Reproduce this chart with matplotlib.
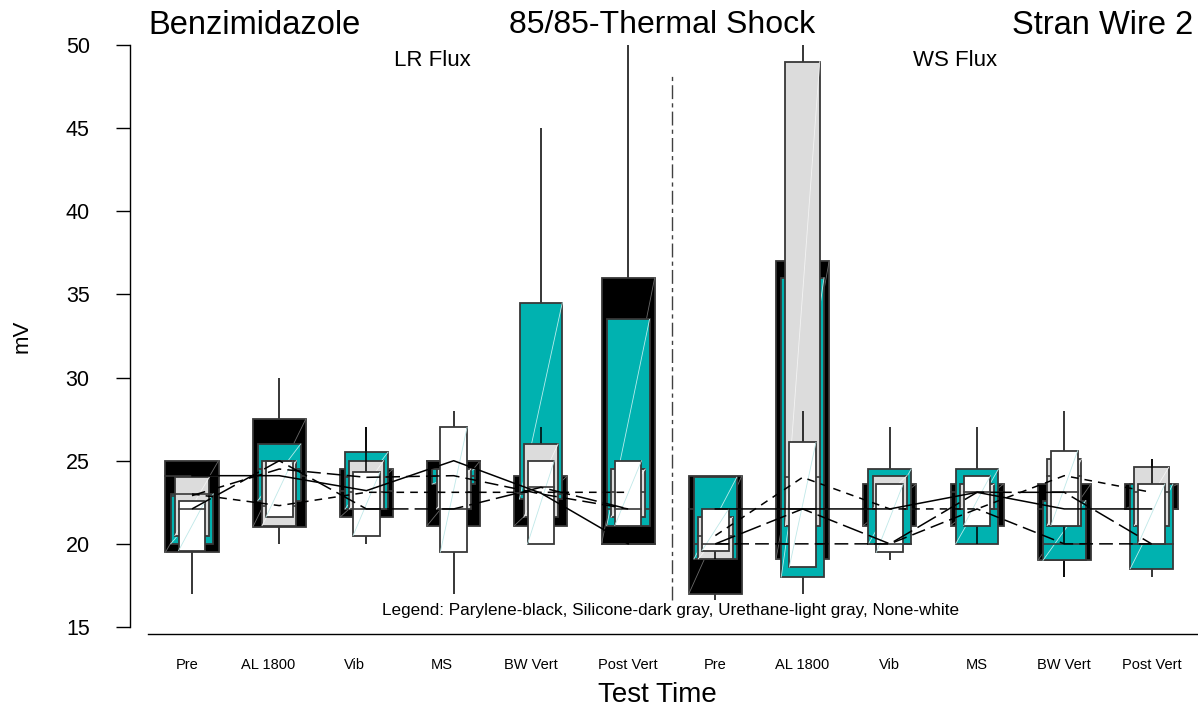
import matplotlib
matplotlib.use("Agg")
import matplotlib.pyplot as plt
import numpy as np

plt.rcParams['font.family'] = ['Liberation Sans', 'DejaVu Sans']

# ---------------- data ----------------
test_times = ["Pre", "AL 1800", "Vib", "MS", "BW Vert", "Post Vert",
              "Pre", "AL 1800", "Vib", "MS", "BW Vert", "Post Vert"]

# Parylene (black)
parylene_lo  = [17.0, 20.0, 21.6, 21.1, 21.1, 20.0, 16.6, 19.1, 21.1, 21.1, 18.0, 22.1]
parylene_q1  = [19.5, 21.0, 21.6, 21.1, 21.1, 20.0, 17.0, 19.1, 21.1, 21.1, 19.0, 22.1]
parylene_med = [24.1, 24.1, 23.2, 25.0, 23.05, 20.0, 22.1, 22.1, 22.1, 23.1, 22.1, 22.1]
parylene_q3  = [25.0, 27.5, 24.5, 25.0, 24.1, 36.0, 24.1, 37.0, 23.6, 23.6, 23.6, 23.6]
parylene_hi  = [25.0, 30.0, 24.5, 25.0, 24.1, 50.0, 24.1, 37.0, 23.6, 23.6, 23.6, 23.6]

# Silicone (dark gray / teal)
silicone_lo  = [20.0, 22.6, 22.1, 23.6, 22.7, 21.1, 19.1, 17.0, 20.0, 20.0, 18.0, 18.0]
silicone_q1  = [20.0, 22.6, 22.1, 23.6, 22.7, 21.1, 19.1, 18.0, 20.0, 20.0, 19.0, 18.5]
silicone_med = [22.9, 24.5, 24.0, 24.1, 23.0, 22.1, 20.0, 20.0, 20.0, 22.1, 20.0, 20.0]
silicone_q3  = [23.0, 26.0, 25.5, 24.5, 34.5, 33.5, 24.0, 36.0, 24.5, 24.5, 22.6, 23.6]
silicone_hi  = [23.0, 26.0, 27.0, 24.5, 45.0, 33.5, 24.0, 36.0, 27.0, 27.0, 22.6, 23.6]

# Urethane (light gray)
urethane_lo  = [20.5, 21.1, 22.1, 22.1, 21.6, 21.6, 19.1, 21.1, 22.1, 22.1, 21.1, 21.1]
urethane_q1  = [20.5, 21.1, 22.1, 22.1, 21.6, 21.6, 19.1, 21.1, 22.1, 22.1, 21.1, 21.1]
urethane_med = [23.0, 22.3, 23.1, 23.1, 23.1, 23.1, 20.5, 24.0, 22.1, 22.1, 24.1, 23.1]
urethane_q3  = [24.0, 25.0, 25.0, 24.5, 26.0, 24.5, 21.6, 49.0, 24.1, 23.6, 25.1, 24.6]
urethane_hi  = [24.0, 25.0, 25.0, 24.5, 27.0, 24.5, 21.6, 50.0, 24.1, 23.6, 25.1, 25.1]

# None (white)
none_lo  = [19.6, 21.6, 20.0, 17.0, 20.0, 20.0, 19.1, 18.6, 19.0, 20.0, 20.0, 20.0]
none_q1  = [19.6, 21.6, 20.5, 19.5, 20.0, 21.1, 19.6, 18.6, 19.5, 21.1, 21.1, 20.0]
none_med = [22.1, 25.0, 22.1, 22.1, 23.4, 22.1, 20.0, 22.1, 20.0, 23.1, 23.1, 20.0]
none_q3  = [22.6, 25.0, 24.3, 27.0, 25.0, 25.0, 22.1, 26.1, 23.6, 24.1, 25.6, 23.6]
none_hi  = [22.6, 25.0, 27.0, 28.0, 25.0, 25.0, 22.1, 28.0, 23.6, 24.1, 28.0, 25.1]

# ---------------- styles ----------------
groups = [
    dict(lo=parylene_lo, q1=parylene_q1, med=parylene_med, q3=parylene_q3, hi=parylene_hi,
         fill='#000000', width=0.608, diag='#6a6a6a', dash=None),
    dict(lo=silicone_lo, q1=silicone_q1, med=silicone_med, q3=silicone_q3, hi=silicone_hi,
         fill='#00b2b0', width=0.49, diag='#b8ecec', dash=(9, 4)),
    dict(lo=urethane_lo, q1=urethane_q1, med=urethane_med, q3=urethane_q3, hi=urethane_hi,
         fill='#dcdcdc', width=0.393, diag='#f4f4f4', dash=(5, 4)),
    dict(lo=none_lo, q1=none_q1, med=none_med, q3=none_q3, hi=none_hi,
         fill='#ffffff', width=0.306, diag='#bfe8e8', dash=(14, 4)),
]

W, H = 1198, 715
fig = plt.figure(figsize=(W / 100, H / 100), dpi=100)

px_per_unit = 87.23
x0_px = 192.0
left_px, right_px, top_px, bot_px = 130, 1198, 45, 627
ax = fig.add_axes([left_px / W, 1 - bot_px / H, (right_px - left_px) / W, (bot_px - top_px) / H])
ax.set_xlim((left_px - x0_px) / px_per_unit, (right_px - x0_px) / px_per_unit)
ax.set_ylim(15, 50)

xs = np.arange(len(test_times))
edge = '#383838'

for g in groups:
    w = g['width']
    for i, x in enumerate(xs):
        q1, q3 = g['q1'][i], g['q3'][i]
        if g['hi'][i] > q3:
            ax.plot([x, x], [q3, g['hi'][i]], color='black', lw=1.1, zorder=2, solid_capstyle='butt')
        if g['lo'][i] < q1:
            ax.plot([x, x], [g['lo'][i], q1], color='black', lw=1.1, zorder=2, solid_capstyle='butt')
        ax.add_patch(plt.Rectangle((x - w / 2, q1), w, q3 - q1, facecolor=g['fill'],
                                   edgecolor=edge, lw=1.3, zorder=2))
        ax.plot([x - w / 2, x + w / 2], [q1, q3], color=g['diag'], lw=0.6, zorder=2)
        ax.plot([x - w / 2, x + w / 2], [g['med'][i]] * 2, color=edge, lw=1.2, zorder=2)

# median connecting lines (each flux separately)
for g in groups:
    for sl in (slice(0, 6), slice(6, 12)):
        ln, = ax.plot(xs[sl], np.array(g['med'])[sl], color='black', lw=1.1, zorder=3)
        if g['dash'] is not None:
            ln.set_dashes(g['dash'])

# separator between fluxes
sep_x = (672 - x0_px) / px_per_unit
sep = ax.plot([sep_x, sep_x], [16.6, 48.2], color='#404040', lw=1.0, zorder=1)[0]
sep.set_dashes((10, 3, 3, 3))

# axes styling
for s in ['top', 'right']:
    ax.spines[s].set_visible(False)
ax.spines['left'].set_linewidth(1.0)
ax.spines['bottom'].set_linewidth(1.0)
ax.spines['bottom'].set_position(('outward', 5))
ax.spines['bottom'].set_bounds((148 - x0_px) / px_per_unit, (right_px - x0_px) / px_per_unit)
ax.set_yticks([15, 20, 25, 30, 35, 40, 45, 50])
ax.tick_params(axis='y', length=10, width=1.0, labelsize=15.5, pad=19)

label_shift_px = [-5, -11, -12, -12, -10, 0, 0, 0, 0, 0, 0, 0]
ax.set_xticks(xs + np.array(label_shift_px) / px_per_unit)
ax.set_xticklabels(test_times)
ax.tick_params(axis='x', length=0, labelsize=10.5, pad=17)

def ftext(px, py, s, **kw):
    fig.text(px / W, 1 - py / H, s, **kw)

ftext(148, 25, "Benzimidazole", fontsize=23.5, ha='left', va='center')
ftext(662, 25, "85/85-Thermal Shock", fontsize=23, ha='center', va='center')
ftext(1193, 25, "Stran Wire 2", fontsize=23.5, ha='right', va='center')
ftext(432, 60, "LR Flux", fontsize=16, ha='center', va='center')
ftext(955, 60, "WS Flux", fontsize=16, ha='center', va='center')
ftext(22, 336, "mV", fontsize=16, rotation=90, ha='center', va='center')
ftext(657, 695, "Test Time", fontsize=20, ha='center', va='center')
ftext(671, 611, "Legend: Parylene-black, Silicone-dark gray, Urethane-light gray, None-white",
      fontsize=12.3, ha='center', va='center')

fig.savefig("out.png", dpi=100)
